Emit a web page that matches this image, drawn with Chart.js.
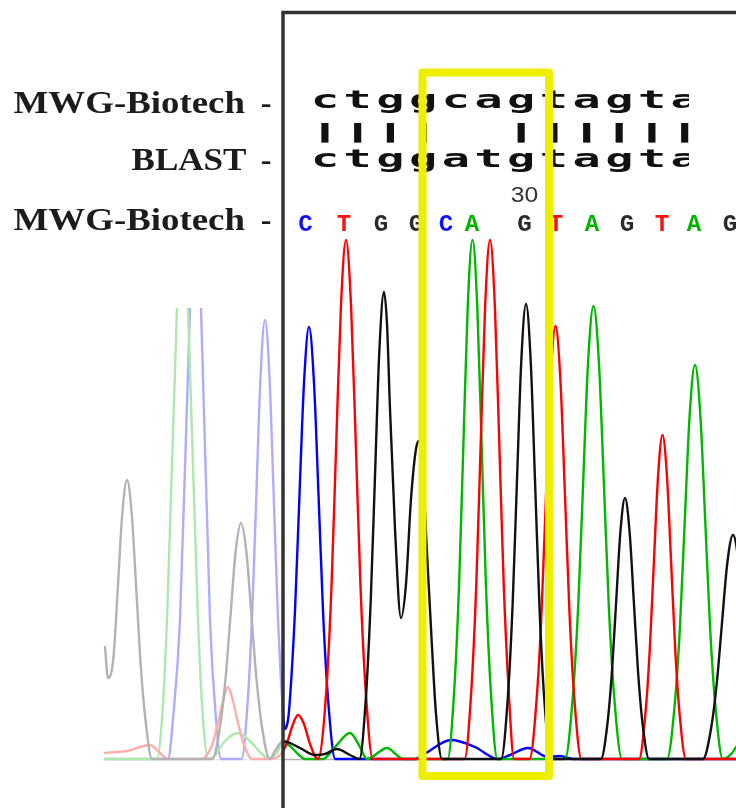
<!DOCTYPE html>
<html><head><meta charset="utf-8">
<script src="https://cdn.jsdelivr.net/npm/chart.js@4.4.1/dist/chart.umd.min.js"></script>
<style>html,body{margin:0;padding:0;background:#fff;}canvas{display:block;}</style>
</head><body>
<canvas id="c" width="736" height="808"></canvas>
<script>
// ---- Data: trace intensities (x = scan position, y = signal) ----
const traceG = [
[105,112],[108,81],[113.3,100],[117.7,169],[122.1,243],[127,279],[131.9,243],[136.3,169],[140.7,94],[145.6,38],[152,0],
[212.3,0],[220,32],[225.5,80],[230.5,143],[235.5,206],[241,236],[246.5,206],[251.5,143],[256.5,80],[262,32],[269.7,0],
[275,8],[283,18],[290,16],[300,11],[315,4],[325,5],[337,10],[350,4],[359.4,0],
[366,63],[370.7,158],[375,283],[379.3,407],[384,467],[387,435],[390,350],[395,230],[401,141],[406,175],[411,260],[416,310],[419,318],[423,285],[427,206],[432,112],[436,45],[442,0],
[501.1,0],[507.8,61],[512.6,154],[516.9,276],[521.2,396],[526,455],[530.8,396],[535.1,276],[539.4,154],[544.2,61],[550.9,0],
[600.9,0],[607.4,35],[612,88],[616.2,158],[620.4,227],[625,261],[629.6,227],[633.8,158],[638,88],[642.6,35],[649.1,0],
[702.9,0],[711,30],[716.8,76],[722,136],[727.2,195],[733,224],[738.8,195],[744,136]
];
const traceT = [
[105,6],[115,7],[127,8],[140,12],[150,14],[160,6],[168,0],
[202,0],[212,14],[218,36],[223,58],[228,72],[233,58],[238,36],[244,14],[252,0],
[270,0],[281,5],[287,16],[292,32],[298,44],[304,35],[310,15],[318,0],
[326.4,70],[331.6,175],[336.2,315],[340.9,452],[346,519],[351.1,452],[355.8,315],[360.4,175],[365.6,70],[372.8,0],
[464.5,0],[471.4,70],[476.3,175],[480.7,315],[485.1,452],[490,519],[494.9,452],[499.3,315],[503.7,175],[508.6,70],[514,0],
[529.5,0],[536.5,58],[541.5,146],[546,263],[550.5,377],[555.5,433],[560.5,377],[565,263],[569.5,146],[574.5,58],[581.5,0],
[639,0],[645.3,44],[649.8,110],[653.9,197],[658,282],[662.5,324],[667,282],[671.1,197],[675.2,110],[679.7,44],[686,0],[740,0]
];
const traceA = [
[105,0],[157,0],[162,40],[167,139],[177,451],[183,570],[188,451],[198,139],[203,40],[208,0],
[215,4],[225,18],[238,26],[250,18],[262,5],[270,0],[278,8],[283,17],[290,13],[298,5],[305,0],
[323,0],[335,12],[350,26],[360,12],[367,0],[372,2],[387,11],[398,3],[403,0],
[447.6,0],[454.3,70],[459.1,175],[463.4,315],[467.7,452],[472.5,519],[477.3,452],[481.6,315],[485.9,175],[490.7,70],[497.4,0],
[565,0],[572.7,61],[578.2,153],[583.1,275],[588,395],[593.5,453],[599,395],[603.9,275],[608.8,153],[614.3,61],[622,0],
[667,0],[674.6,53],[680,133],[684.8,239],[689.6,343],[695,394],[700.4,343],[705.2,239],[710,133],[715.4,53],[722.9,0],
[728,2],[736,12],[742,30]
];
const traceC = [
[105,0],[168,0],[173,40],[180,139],[190,451],[195,570],[201,451],[210,139],[216,40],[221,0],
[241.5,0],[247.8,59],[252.3,148],[256.4,266],[260.5,382],[265,439],[269.5,382],[273.6,266],[277.7,148],[282.2,59],
[285,30],[288,39],[289.8,58],[294.9,146],[299.4,262],[304,376],[309,432],[314,376],[318.6,262],[323.1,146],[328.2,58],[335.3,0],
[415,0],[426,6],[451,19],[475,12],[498,0],[510,4],[528,11],[548,2],[560,3],[573,0],[740,0]
];

// base calls under the labels
const callLetters   = ['C','T','G','G','C','A','G','T','A','G','T','A','G'];
const callPositions = [305.5,344,381,416,446,472,524.5,556,592,627,662,694,730];

// alignment rows
const rowLabels  = ['MWG-Biotech','BLAST','MWG-Biotech'];
const querySeq   = ['c','t','g','g','c','a','g','t','a','g','t','a'];
const matchMarks = ['|','|','|','|',' ',' ','|','|','|','|','|','|'];
const subjectSeq = ['c','t','g','g','a','t','g','t','a','g','t','a'];
const positionLabel = '30';
const positionLabelIndex = 6;

// ---- layout / style ----
const seqStart = 325, seqPitch = 32.7, seqClipRight = 689;
const fadeEdge = 283;          // scan position where the shown window starts
const fadeClipLevel = 451;     // faded traces are clipped above this level
const highlightFrom = 422.5, highlightTo = 549;
const colors = {A:'#00b800', C:'#0000ff', G:'#111111', T:'#ff0000'};
const callColors = {A:'#00b400', C:'#1010ff', G:'#2a2a2a', T:'#ff1010'};

function toPts(arr){ return arr.map(p => ({x:p[0], y:p[1]})); }

function fitText(ctx, text, left, right, baseline, font, color){
  ctx.save();
  ctx.font = font;
  const w = ctx.measureText(text).width;
  const s = (right-left)/w;
  ctx.translate(left, baseline); ctx.scale(s,1);
  ctx.fillStyle = color; ctx.textAlign='left'; ctx.textBaseline='alphabetic';
  ctx.fillText(text,0,0);
  ctx.restore();
}
function centerText(ctx, text, cx, baseline, font, color, sx){
  ctx.save();
  ctx.font = font;
  ctx.translate(cx, baseline); ctx.scale(sx,1);
  ctx.fillStyle = color; ctx.textAlign='center'; ctx.textBaseline='alphabetic';
  ctx.fillText(text,0,0);
  ctx.restore();
}

const chromPlugin = {
  id:'chrom',
  beforeDraw(chart){
    const c = chart.ctx; c.save(); c.fillStyle='#fff'; c.fillRect(0,0,chart.width,chart.height); c.restore();
  },
  beforeDatasetsDraw(chart){
    const ctx = chart.ctx, xs = chart.scales.x, ys = chart.scales.y;
    const y0 = ys.getPixelForValue(0);
    ctx.save();
    ctx.strokeStyle = '#b4b4b4'; ctx.lineWidth = 1.5;
    ctx.beginPath(); ctx.moveTo(xs.getPixelForValue(traceG[0][0]), y0 + 0.5); ctx.lineTo(chart.width, y0 + 0.5); ctx.stroke();
    ctx.restore();
    const xe = xs.getPixelForValue(fadeEdge), yc = ys.getPixelForValue(fadeClipLevel);
    ctx.save();
    ctx.beginPath();
    ctx.rect(0, yc, xe, chart.height - yc);
    ctx.rect(xe, 0, chart.width - xe, chart.height);
    ctx.clip();
  },
  afterDatasetsDraw(chart){
    const ctx = chart.ctx, xs = chart.scales.x;
    ctx.restore();
    const xe = xs.getPixelForValue(fadeEdge);
    ctx.save(); ctx.fillStyle = 'rgba(255,255,255,0.68)'; ctx.fillRect(0,0,xe,chart.height); ctx.restore();
  },
  afterDraw(chart){
    const ctx = chart.ctx, xs = chart.scales.x;
    const lab = '#1c1c1c';
    const serif = 'bold 32px "Liberation Serif"';
    // row labels
    fitText(ctx, rowLabels[0], 13.5, 245, 113, serif, lab);
    fitText(ctx, rowLabels[1], 131.5, 246.5, 169.5, serif, lab);
    fitText(ctx, rowLabels[2], 13.5, 245, 230, serif, lab);
    [113,169.5,230].forEach(b => centerText(ctx, '-', 266, b, serif, lab, 1.0));
    // alignment sequences
    ctx.save();
    ctx.beginPath(); ctx.rect(0,0,seqClipRight,chart.height); ctx.clip();
    const mono = 'bold 24px "DejaVu Sans Mono"';
    for (let i=0;i<querySeq.length;i++){
      const cx = xs.getPixelForValue(seqStart + seqPitch*i);
      centerText(ctx, querySeq[i], cx, 108, mono, '#111', 1.95);
      centerText(ctx, subjectSeq[i], cx, 167, mono, '#111', 1.95);
      if (matchMarks[i] !== ' ') centerText(ctx, matchMarks[i], cx, 138, 'bold 19px "DejaVu Sans Mono"', '#111', 3.4);
    }
    ctx.restore();
    // position number
    centerText(ctx, positionLabel, xs.getPixelForValue(callPositions[positionLabelIndex]), 201.5, '22px "Liberation Sans"', '#333', 1.12);
    // base calls
    for (let i=0;i<callLetters.length;i++){
      const L = callLetters[i];
      centerText(ctx, L, xs.getPixelForValue(callPositions[i]), 230.5, 'bold 23px "Liberation Mono"', callColors[L], 1.05);
    }
    // window frame
    const xe = xs.getPixelForValue(fadeEdge);
    ctx.save();
    ctx.strokeStyle = '#333'; ctx.lineWidth = 3.5; ctx.lineJoin='miter';
    ctx.beginPath(); ctx.moveTo(xe, chart.height+5); ctx.lineTo(xe, 12.5); ctx.lineTo(chart.width+5, 12.5); ctx.stroke();
    ctx.restore();
    // yellow highlight
    const hx1 = xs.getPixelForValue(highlightFrom), hx2 = xs.getPixelForValue(highlightTo);
    ctx.save();
    ctx.strokeStyle = '#eeee00'; ctx.lineWidth = 8; ctx.lineJoin='round';
    ctx.strokeRect(hx1, 72.5, hx2-hx1, 703.5);
    ctx.restore();
  }
};

function ds(label, arr, color){
  return {label, data: toPts(arr), borderColor: color, borderWidth: 2.4, pointRadius: 0,
          cubicInterpolationMode: 'monotone', fill: false, borderJoinStyle:'round', borderCapStyle:'round'};
}

new Chart(document.getElementById('c'), {
  type: 'line',
  data: { datasets: [ ds('G', traceG, colors.G), ds('T', traceT, colors.T), ds('A', traceA, colors.A), ds('C', traceC, colors.C) ] },
  options: {
    responsive: false, animation: false, devicePixelRatio: 1,
    layout: { padding: 0 },
    plugins: { legend: {display:false}, tooltip: {enabled:false} },
    scales: {
      x: { type:'linear', min:0, max:736, display:false },
      y: { type:'linear', min:-49, max:759, display:false }
    }
  },
  plugins: [chromPlugin]
});
</script>
</body></html>
